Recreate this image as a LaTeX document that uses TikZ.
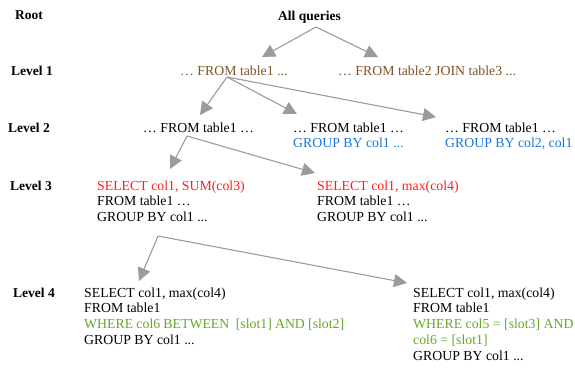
\documentclass[tikz,border=0pt]{standalone}
\usepackage{fontspec}
\setmainfont{Liberation Serif}
\usetikzlibrary{arrows.meta}
\definecolor{brn}{RGB}{128,82,38}
\definecolor{blu}{RGB}{25,118,220}
\definecolor{rd}{RGB}{255,30,30}
\definecolor{grn}{RGB}{100,170,40}
\definecolor{arr}{RGB}{155,155,155}
\newcommand{\blk}[1]{\parbox[t]{260pt}{#1}}
\tikzset{
  txt/.style={anchor=base west, inner sep=0pt, font=\fontsize{13.8}{15.8}\selectfont},
  lvl/.style={anchor=base west, inner sep=0pt, font=\fontsize{13.5}{15.8}\selectfont\bfseries},
  link/.style={draw=arr, line width=1.1pt, -{Triangle[length=13pt,width=13pt,fill=arr]}}
}
\begin{document}
\begin{tikzpicture}[x=1pt,y=-1pt]
\useasboundingbox (0,0) rectangle (575,367);
% level labels
\node[lvl] (root) at (15,19) {Root};
\node[lvl] (lv1) at (11,75) {Level 1};
\node[lvl] (lv2) at (8,132) {Level 2};
\node[lvl] (lv3) at (10,190) {Level 3};
\node[lvl] (lv4) at (13,297) {Level 4};
% tree nodes
\node[lvl] (all) at (278,20) {All queries};
\node[txt,text=brn] (l1a) at (180,75) {… FROM table1 ...};
\node[txt,text=brn] (l1b) at (338,75) {… FROM table2 JOIN table3 ...};
\node[txt] (l2a) at (143,132) {… FROM table1 …};
\node[txt] (l2b) at (293,132) {\blk{… FROM table1 …\\\textcolor{blu}{GROUP BY col1 ...}}};
\node[txt] (l2c) at (445,132) {\blk{… FROM table1 …\\\textcolor{blu}{GROUP BY col2, col1}}};
\node[txt] (l3a) at (97,190) {\blk{\textcolor{rd}{SELECT col1, SUM(col3)}\\FROM table1 …\\GROUP BY col1 ...}};
\node[txt] (l3b) at (317,190) {\blk{\textcolor{rd}{SELECT col1, max(col4)}\\FROM table1 …\\GROUP BY col1 ...}};
\node[txt] (l4a) at (84,297) {\blk{SELECT col1, max(col4)\\FROM table1\\\textcolor{grn}{WHERE col6 BETWEEN\ \ [slot1] AND [slot2]}\\GROUP BY col1 ...}};
\node[txt] (l4b) at (413,297) {\blk{SELECT col1, max(col4)\\FROM table1\\\textcolor{grn}{WHERE col5 = [slot3] AND}\\\textcolor{grn}{col6 = [slot1]}\\GROUP BY col1 ...}};
% connector end points
\coordinate (s0) at (316,27);
\coordinate (t1a) at (262,57);
\coordinate (t1b) at (378,57);
\coordinate (s1) at (227,77);
\coordinate (t2a) at (200,115);
\coordinate (t2b) at (297,114);
\coordinate (t2c) at (436,117);
\coordinate (s2) at (187,136);
\coordinate (t3a) at (170,169);
\coordinate (t3b) at (315,173);
\coordinate (s3) at (158,236);
\coordinate (t4a) at (139,281);
\coordinate (t4b) at (407,283);
% connectors
\draw[link] (s0) -- (t1a);
\draw[link] (s0) -- (t1b);
\draw[link] (s1) -- (t2a);
\draw[link] (s1) -- (t2b);
\draw[link] (s1) -- (t2c);
\draw[link] (s2) -- (t3a);
\draw[link] (s2) -- (t3b);
\draw[link] (s3) -- (t4a);
\draw[link] (s3) -- (t4b);
\end{tikzpicture}
\end{document}
